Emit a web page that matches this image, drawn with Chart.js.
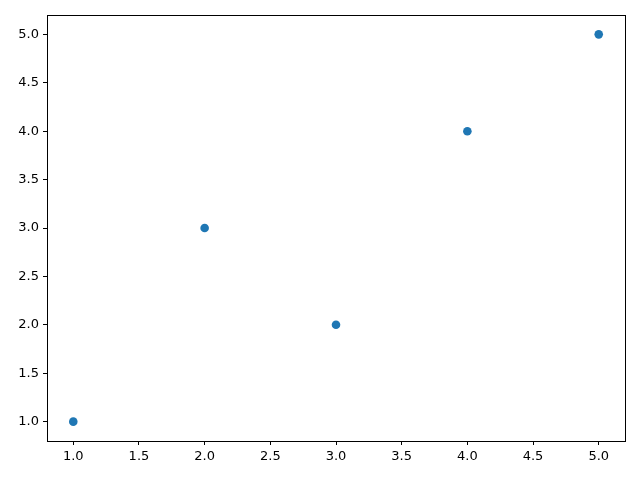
<!DOCTYPE html>
<html>
<head>
<meta charset="utf-8">
<script src="https://cdn.jsdelivr.net/npm/chart.js@4"></script>
<style>
  html, body { margin: 0; padding: 0; background: #fff; }
</style>
</head>
<body>
<canvas id="myChart" width="640" height="480"></canvas>
<script>
var xValues = [1, 2, 3, 4, 5];
var yValues = [1, 3, 2, 4, 5];
var xTicks = [1.0, 1.5, 2.0, 2.5, 3.0, 3.5, 4.0, 4.5, 5.0];
var yTicks = [1.0, 1.5, 2.0, 2.5, 3.0, 3.5, 4.0, 4.5, 5.0];

var frame = {
  id: 'frame',
  afterDraw: function (chart) {
    var a = chart.chartArea, c = chart.ctx;
    c.save();
    c.strokeStyle = '#000';
    c.lineWidth = 1;
    c.strokeRect(Math.round(a.left) + 0.5, Math.round(a.top) + 0.5,
      Math.round(a.right - a.left), Math.round(a.bottom - a.top));
    c.restore();
  }
};

function axis(ticks, pos, size) {
  return {
    type: 'linear',
    position: pos,
    min: 0.8,
    max: 5.2,
    grid: { drawOnChartArea: false, drawTicks: true, tickLength: 4, color: '#000' },
    border: { display: false },
    ticks: {
      color: '#000',
      padding: 4,
      font: { family: 'DejaVu Sans', size: 13 },
      callback: function (v) { return v.toFixed(1); }
    },
    afterBuildTicks: function (scale) {
      scale.ticks = ticks.map(function (v) { return { value: v }; });
    },
    afterFit: function (scale) {
      if (pos === 'left') scale.width = size; else scale.height = size;
    }
  };
}

window.onload = function () {
  var ctx = document.getElementById('myChart').getContext('2d');
  new Chart(ctx, {
    type: 'scatter',
    data: {
      datasets: [{
        data: xValues.map(function (x, i) { return { x: x, y: yValues[i] }; }),
        backgroundColor: '#1f77b4',
        borderColor: '#1f77b4',
        pointRadius: 4.3,
        borderWidth: 0
      }]
    },
    options: {
      responsive: false,
      animation: false,
      layout: { padding: { left: 0, right: 15, top: 15, bottom: 0 } },
      plugins: { legend: { display: false }, tooltip: { enabled: false } },
      scales: {
        x: axis(xTicks, 'bottom', 39),
        y: axis(yTicks, 'left', 47)
      }
    },
    plugins: [frame]
  });
};
</script>
</body>
</html>
